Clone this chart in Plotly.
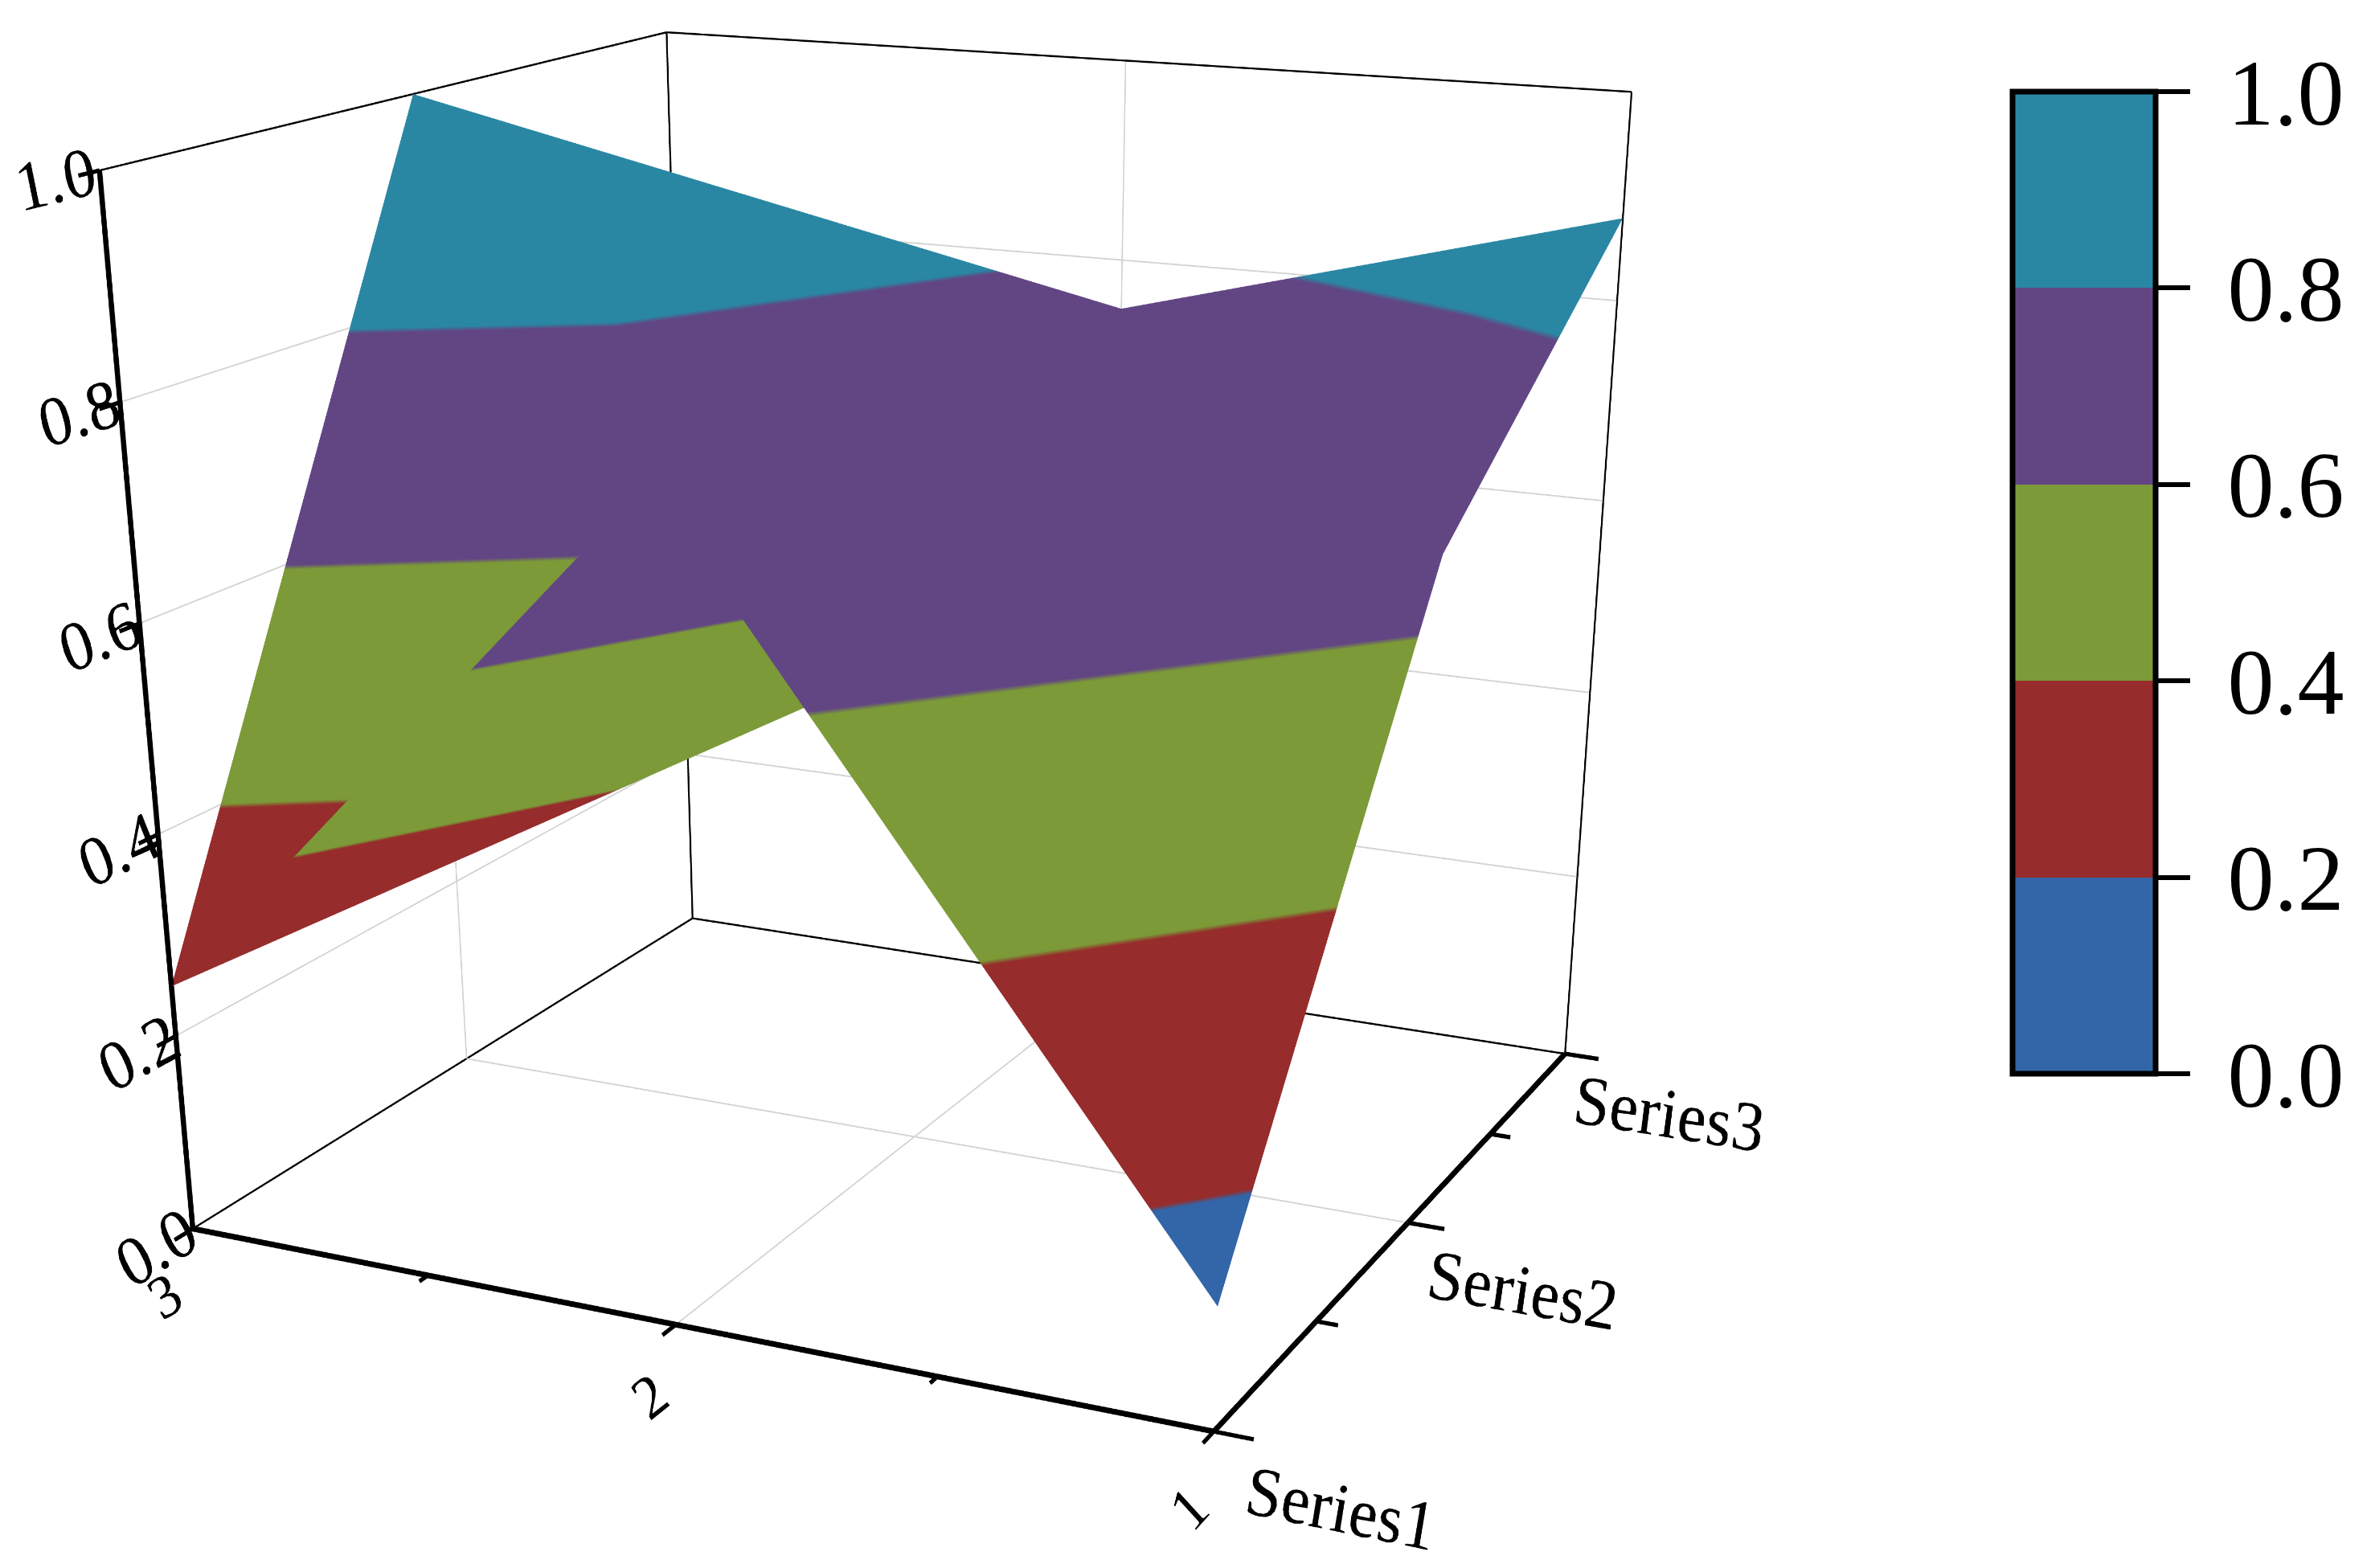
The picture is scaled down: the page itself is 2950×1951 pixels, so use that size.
import plotly.graph_objects as go

x_labels = ["3", "2", "1"]
y_labels = ["Series1", "Series2", "Series3"]
z_ticks = [0.0, 0.2, 0.4, 0.6, 0.8, 1.0]
z_row3 = [0.25, 1.00, 0.84]
z_row2 = [0.78, 0.50, 0.75]
z_row1 = [0.12, 0.66, 0.88]
band_colors = ["#3366A8", "#962C2C", "#7C9A38", "#624684", "#2A87A3"]

W, H = 2950, 4500
CX = 1180
PAD = 1.1
SHIFT_X, SHIFT_Y = 0.0449, 0.0144
eye = (1.5754 / PAD - SHIFT_X, -3.2848 / PAD - SHIFT_Y, 0.8832 / PAD)
look = (1.3428 / PAD - SHIFT_X, -2.7846 / PAD - SHIFT_Y, 0.5844 / PAD)
aspect = (1, 0.9607, 0.8296)

pos = [1, 2, 3]
xs, ys, zs = [], [], []
for i, row in enumerate([z_row3, z_row2, z_row1]):
    for j, v in enumerate(row):
        xs.append(pos[i]); ys.append(pos[j]); zs.append(v)
I, J_, K = [], [], []
for a in range(2):
    for b in range(2):
        n = a * 3 + b
        I += [n, n]; J_ += [n + 3, n + 4]; K += [n + 4, n + 1]

scale = []
for i, c in enumerate(band_colors):
    scale += [[i / 5, c], [(i + 1) / 5, c]]

fig = go.Figure()

def seg(p0, p1, color, width):
    fig.add_trace(go.Scatter3d(x=[p0[0], p1[0]], y=[p0[1], p1[1]], z=[p0[2], p1[2]], mode="lines",
                               line=dict(color=color, width=width), hoverinfo="skip", showlegend=False))

fig.add_trace(go.Mesh3d(x=xs, y=ys, z=zs, i=I, j=J_, k=K, intensity=zs, cmin=0, cmax=1,
    colorscale=scale, flatshading=False,
    lighting=dict(ambient=1, diffuse=0, specular=0, fresnel=0, roughness=1),
    hoverinfo="skip",
    colorbar=dict(x=2496 / W, xanchor="left", xpad=0, y=1 - 106 / H, yanchor="top", ypad=0,
                  lenmode="pixels", len=1222, thickness=178, thicknessmode="pixels",
                  outlinewidth=7, outlinecolor="black", ticks="outside", ticklen=40,
                  tickwidth=6, tickcolor="black", tickvals=z_ticks, ticktext=["\u2009%.1f" % t for t in z_ticks],
                  tickfont=dict(family="Liberation Serif", size=116, color="black"))))

grid = "#d2d2d2"
seg((2, 1, 0), (2, 3, 0), grid, 3)
seg((1, 2, 0), (3, 2, 0), grid, 3)
seg((2, 3, 0), (2, 3, 1), grid, 3)
seg((1, 2, 0), (1, 2, 1), grid, 3)
for v in z_ticks[1:5]:
    seg((1, 1, v), (1, 3, v), grid, 3)
    seg((1, 3, v), (3, 3, v), grid, 3)

for e0, e1 in [((1, 3, 0), (1, 1, 0)), ((1, 3, 0), (3, 3, 0)), ((1, 3, 0), (1, 3, 1)), ((3, 3, 0), (3, 3, 1)),
               ((1, 1, 1), (1, 3, 1)), ((1, 3, 1), (3, 3, 1))]:
    seg(e0, e1, "black", 4)
for e0, e1 in [((1, 1, 0), (3, 1, 0)), ((3, 1, 0), (3, 3, 0)), ((1, 1, 0), (1, 1, 1))]:
    seg(e0, e1, "black", 12)

for v in pos:
    seg((v, 1, 0), (v, 0.95, 0), "black", 9)
    seg((3, v, 0), (3.07, v, 0), "black", 9)
for v in z_ticks:
    seg((1, 1, v), (1, 0.94, v), "black", 9)
for v in [1.5, 2.5]:
    seg((v, 1, 0), (v, 0.97, 0), "black", 9)
    seg((3, v, 0), (3.04, v, 0), "black", 9)

ax = dict(showbackground=False, showline=False, showgrid=False, zeroline=False, ticks="",
          showspikes=False, title=dict(text=""))
fig.update_layout(width=W, height=H, margin=dict(l=0, r=0, t=0, b=0), paper_bgcolor="white",
    scene=dict(domain=dict(x=[0, 2 * CX / W], y=[0, 1]), aspectmode="manual",
        aspectratio=dict(x=aspect[0], y=aspect[1], z=aspect[2]),
        camera=dict(eye=dict(x=eye[0], y=eye[1], z=eye[2]),
                    center=dict(x=look[0], y=look[1], z=look[2]),
                    up=dict(x=0, y=0, z=1), projection=dict(type="perspective")),
        xaxis=dict(ax, range=[0.99, 3.19], tickvals=pos, ticktext=x_labels,
                   tickfont=dict(family="Liberation Serif", size=28, color="black")),
        yaxis=dict(ax, range=[0.93, 3.13], tickvals=pos, ticktext=y_labels,
                   tickfont=dict(family="Liberation Serif", size=30, color="black")),
        zaxis=dict(ax, range=[-0.05, 1.05], tickvals=z_ticks, ticktext=["%.1f" % t for t in z_ticks],
                   tickfont=dict(family="Liberation Serif", size=30, color="black"))))
fig.write_html("out.html")
